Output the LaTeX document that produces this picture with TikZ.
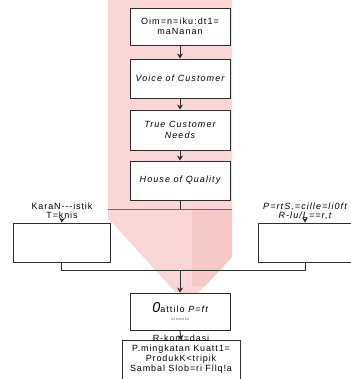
\documentclass[tikz,border=0pt]{standalone}
\usepackage{fontspec}
\setmainfont{Liberation Sans}
\usetikzlibrary{arrows.meta}
\definecolor{pinkA}{RGB}{250,214,214}
\definecolor{pinkB}{RGB}{246,200,200}
\definecolor{lineC}{RGB}{45,45,45}
\tikzset{
  box/.style={draw=lineC, line width=0.9pt, fill=white, align=center, inner sep=1pt,
    font=\fontsize{9}{10.5}\selectfont\addfontfeatures{LetterSpace=12}},
  ibox/.style={box, font=\fontsize{9}{10.5}\selectfont\itshape\addfontfeatures{LetterSpace=12}},
  lbl/.style={align=center, inner sep=0pt, font=\fontsize{9}{9}\selectfont\addfontfeatures{LetterSpace=10}},
  conn/.style={draw=lineC, line width=0.9pt},
  arr/.style={conn, -{Stealth[length=5pt,width=6pt]}}
}
\begin{document}
\begin{tikzpicture}[x=1pt,y=-1pt]
\useasboundingbox (0,0) rectangle (350,379);
% pink background
\fill[pinkA] (108,0) -- (232,0) -- (232,257) -- (197,294) -- (177,294) -- (108,218) -- cycle;
\fill[pinkB] (192,209) -- (232,209) -- (232,257) -- (205,286) -- (192,286) -- cycle;
\fill[pinkA] (258,227) rectangle (286,233);
\draw[draw=lineC!70, line width=0.6pt] (108,209) -- (232,209);
% main column
\node[box, minimum width=100pt, minimum height=37pt] (b1) at (180,26.5) {Oim=n=iku:dt1=\\maNanan};
\node[ibox, minimum width=100pt, minimum height=39pt] (b2) at (180,78.5) {Voice of Customer};
\node[ibox, minimum width=100pt, minimum height=40pt] (b3) at (180,130) {True Customer\\Needs};
\node[ibox, minimum width=100pt, minimum height=39pt] (b4) at (180,180.5) {House of Quality};
\coordinate (c4) at (180,209);
% side boxes
\node[box, minimum width=97pt, minimum height=39pt] (lb) at (61.5,242.5) {};
\node[box, minimum width=94pt, minimum height=39pt] (rb) at (305,242.5) {};
\node[lbl] (ll) at (62,211) {KaraN-{}-{}-istik\\T=knis};
\node[lbl, font=\fontsize{9}{9}\selectfont\itshape\addfontfeatures{LetterSpace=12}] (rl) at (305,211) {P=rtS,=cille=li0ft\\R-lu/L==r,t};
\coordinate (J) at (180,270);
% bottom boxes
\node[box, minimum width=100pt, minimum height=37pt] (b5) at (180,311.5) {{\Large\itshape 0}attilo {\itshape P=ft}\\[-3pt]{\tiny ,,,,,,,,,,,,,,,,}};
\node[box, minimum width=118pt, minimum height=44pt, anchor=north] (b6) at (181,340) {};
\node[lbl, font=\fontsize{9}{10}\selectfont\addfontfeatures{LetterSpace=10}] (t6) at (181,354) {R-kom=dasi\\P.mingkatan Kuatt1=\\ProdukK<tripik\\Sambal Slob=ri Fllq!a};
% connectors
\draw[arr] (b1.south) -- (b2.north);
\draw[arr] (b2.south) -- (b3.north);
\draw[arr] (b3.south) -- (b4.north);
\draw[conn] (b4.south) -- (c4);
\draw[arr] (ll.south) -- (lb.north);
\draw[arr] (rl.south) -- (rl.south |- rb.north);
\draw[conn] (lb.south) |- (J);
\draw[conn] (rb.south) |- (J);
\draw[arr] (J) -- (b5.north);
\draw[arr] (b5.south) -- (b6.north);
\end{tikzpicture}
\end{document}
